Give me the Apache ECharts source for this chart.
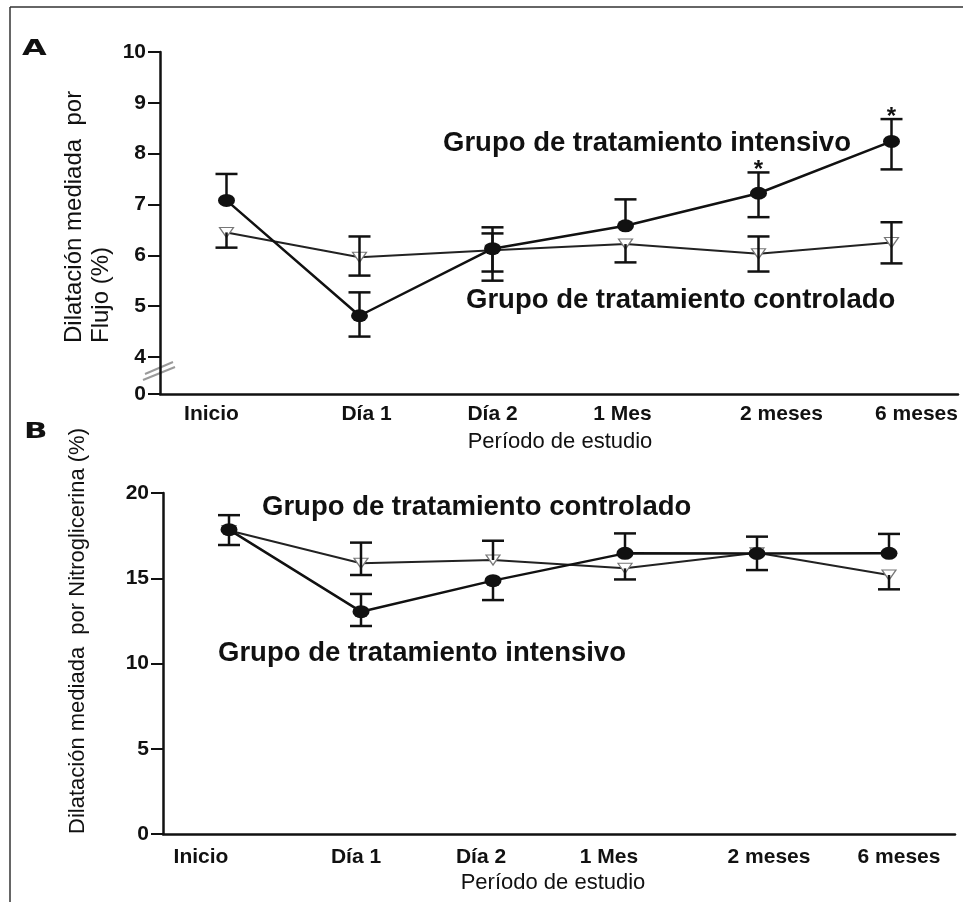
<!DOCTYPE html>
<html>
<head>
<meta charset="utf-8">
<script src="https://cdn.jsdelivr.net/npm/echarts@6/dist/echarts.min.js"></script>
<style>
  html, body { margin: 0; padding: 0; background: #fff; }
  #chart { width: 963px; height: 902px; }
</style>
</head>
<body>
<div id="chart"></div>
<script>
// Study periods shared by both panels
const categories = ['Inicio', 'Día 1', 'Día 2', '1 Mes', '2 meses', '6 meses'];

// Panel A: flow-mediated dilation (%)
const intensiveA   = [7.08, 4.81, 6.13, 6.58, 7.22, 8.24];
const intensiveAHi = [7.60, 5.27, 6.55, 7.10, 7.63, 8.68];
const intensiveALo = [null, 4.40, 5.50, null, 6.75, 7.69];
const controlA     = [6.45, 5.96, 6.10, 6.22, 6.03, 6.25];
const controlAHi   = [null, 6.37, 6.43, null, 6.37, 6.65];
const controlALo   = [6.15, 5.60, 5.68, 5.86, 5.68, 5.84];
const signifA      = ['', '', '', '', '*', '*'];
// broken axis: the bottom of the axis stands for 0
const yBreakA = 3.27;
const yTicksA = [yBreakA, 4, 5, 6, 7, 8, 9, 10];

// Panel B: nitroglycerin-mediated dilation (%)
const intensiveB   = [17.85, 13.04, 14.86, 16.46, 16.45, 16.46];
const intensiveBHi = [18.70, 14.08, null, 17.63, 17.44, 17.60];
const intensiveBLo = [null, 12.20, 13.72, null, null, null];
const controlB     = [17.80, 15.88, 16.07, 15.58, 16.50, 15.19];
const controlBHi   = [null, 17.09, 17.20, null, null, null];
const controlBLo   = [16.95, 15.19, null, 14.93, 15.48, 14.35];
const yTicksB = [0, 5, 10, 15, 20];

// horizontal nudges (px) of the category labels
const labelShiftA = [-15, 7, 0, -3, 23, 25];
const labelShiftB = [-28, -5, -12, -16, 12, 10];

const FONT = '"Liberation Sans", Arial, sans-serif';
const INK = '#111';

function catData(shifts) {
  return categories.map((c, i) => {
    const d = shifts[i];
    return {
      value: c,
      textStyle: { padding: d >= 0 ? [0, 0, 0, 2 * d] : [0, -2 * d, 0, 0] }
    };
  });
}

function errorSeries(xi, yi, mean, lo, hi, marks, z) {
  return {
    type: 'custom',
    xAxisIndex: xi,
    yAxisIndex: yi,
    z: z,
    silent: true,
    encode: { x: 0, y: 3 },
    data: mean.map((m, i) => [i, lo[i], hi[i], m]),
    renderItem: function (params, api) {
      const i = api.value(0);
      const l = api.value(1), h = api.value(2), m = api.value(3);
      const c = api.coord([i, m]);
      const top = isNaN(h) ? c : api.coord([i, h]);
      const bot = isNaN(l) ? c : api.coord([i, l]);
      const st = { stroke: INK, lineWidth: 2.5 };
      const half = 11;
      const kids = [{ type: 'line', shape: { x1: c[0], y1: top[1], x2: c[0], y2: bot[1] }, style: st }];
      if (!isNaN(h)) kids.push({ type: 'line', shape: { x1: c[0] - half, y1: top[1], x2: c[0] + half, y2: top[1] }, style: st });
      if (!isNaN(l)) kids.push({ type: 'line', shape: { x1: c[0] - half, y1: bot[1], x2: c[0] + half, y2: bot[1] }, style: st });
      const mk = marks ? marks[params.dataIndex] : '';
      if (mk) {
        kids.push({
          type: 'text',
          x: c[0], y: top[1] + 10,
          style: { text: mk, fill: INK, font: 'bold 24px ' + FONT, align: 'center', verticalAlign: 'bottom' }
        });
      }
      return { type: 'group', children: kids };
    }
  };
}

function intensiveLine(xi, yi, data) {
  return {
    type: 'line', xAxisIndex: xi, yAxisIndex: yi, z: 4, data: data,
    symbol: 'circle', symbolSize: [17, 13],
    lineStyle: { color: INK, width: 2.5 },
    itemStyle: { color: INK },
    animation: false
  };
}

function controlLine(xi, yi, data) {
  return {
    type: 'line', xAxisIndex: xi, yAxisIndex: yi, z: 2, data: data,
    symbol: 'triangle', symbolRotate: 180, symbolSize: [14, 10],
    lineStyle: { color: '#222', width: 2 },
    itemStyle: { color: '#fff', borderColor: '#777', borderWidth: 1.2 },
    animation: false
  };
}

const axisLineStyle = { show: true, lineStyle: { color: INK, width: 2.5 } };

const option = {
  backgroundColor: '#fff',
  animation: false,
  grid: [
    { left: 160, top: 52, width: 798, height: 342 },
    { left: 163, top: 493, width: 792, height: 341 }
  ],
  xAxis: [
    {
      type: 'category', gridIndex: 0, data: catData(labelShiftA), boundaryGap: true,
      axisLine: axisLineStyle, axisTick: { show: false },
      axisLabel: { color: INK, fontFamily: FONT, fontWeight: 'bold', fontSize: 21, margin: 10, interval: 0 }
    },
    {
      type: 'category', gridIndex: 1, data: catData(labelShiftB), boundaryGap: true,
      axisLine: axisLineStyle, axisTick: { show: false },
      axisLabel: { color: INK, fontFamily: FONT, fontWeight: 'bold', fontSize: 21, margin: 13, interval: 0 }
    }
  ],
  yAxis: [
    {
      type: 'value', gridIndex: 0, min: yBreakA, max: 10,
      axisLine: axisLineStyle,
      axisTick: { show: true, length: 12, customValues: yTicksA, lineStyle: { color: INK, width: 2 } },
      axisLabel: {
        customValues: yTicksA, margin: 14, color: INK, fontFamily: FONT, fontWeight: 'bold', fontSize: 21,
        formatter: v => (v < 4 ? '0' : String(Math.round(v)))
      },
      splitLine: { show: false }
    },
    {
      type: 'value', gridIndex: 1, min: 0, max: 20,
      axisLine: axisLineStyle,
      axisTick: { show: true, length: 12, customValues: yTicksB, lineStyle: { color: INK, width: 2 } },
      axisLabel: { customValues: yTicksB, margin: 14, color: INK, fontFamily: FONT, fontWeight: 'bold', fontSize: 21 },
      splitLine: { show: false }
    }
  ],
  series: [
    controlLine(0, 0, controlA),
    errorSeries(0, 0, controlA, controlALo, controlAHi, null, 3),
    errorSeries(0, 0, intensiveA, intensiveALo, intensiveAHi, signifA, 3),
    intensiveLine(0, 0, intensiveA),
    controlLine(1, 1, controlB),
    errorSeries(1, 1, controlB, controlBLo, controlBHi, null, 3),
    errorSeries(1, 1, intensiveB, intensiveBLo, intensiveBHi, null, 3),
    intensiveLine(1, 1, intensiveB)
  ],
  graphic: [
    // frame
    { type: 'line', shape: { x1: 10, y1: 7, x2: 963, y2: 7 }, style: { stroke: '#333', lineWidth: 1.5 } },
    { type: 'line', shape: { x1: 10, y1: 7, x2: 10, y2: 902 }, style: { stroke: '#333', lineWidth: 1.5 } },
    // panel letters
    { type: 'text', x: 22, y: 38, scaleX: 1.45, style: { text: 'A', font: 'bold 22px "DejaVu Sans"', fill: INK } },
    { type: 'text', x: 24, y: 421, scaleX: 1.4, style: { text: 'B', font: 'bold 22px "DejaVu Sans"', fill: INK } },
    // axis break marks
    { type: 'line', shape: { x1: 143, y1: 380, x2: 175, y2: 367 }, style: { stroke: '#9a9a9a', lineWidth: 2 } },
    { type: 'line', shape: { x1: 145, y1: 374, x2: 173, y2: 362 }, style: { stroke: '#9a9a9a', lineWidth: 2 } },
    // y-axis titles
    {
      type: 'text', x: 61, y: 343, rotation: Math.PI / 2,
      style: { text: 'Dilatación mediada  por\nFlujo (%)', font: '24px ' + FONT, fill: INK, align: 'left', verticalAlign: 'top', lineHeight: 27 }
    },
    {
      type: 'text', x: 78, y: 631, rotation: Math.PI / 2,
      style: { text: 'Dilatación mediada  por Nitroglicerina (%)', font: '22px ' + FONT, fill: INK, align: 'center', verticalAlign: 'middle' }
    },
    // x-axis titles
    { type: 'text', x: 560, y: 442, style: { text: 'Período de estudio', font: '22px ' + FONT, fill: INK, align: 'center', verticalAlign: 'middle' } },
    { type: 'text', x: 553, y: 883, style: { text: 'Período de estudio', font: '22px ' + FONT, fill: INK, align: 'center', verticalAlign: 'middle' } },
    // group labels
    { type: 'text', x: 443, y: 143, style: { text: 'Grupo de tratamiento intensivo', font: 'bold 27.5px ' + FONT, fill: INK, align: 'left', verticalAlign: 'middle' } },
    { type: 'text', x: 466, y: 300, style: { text: 'Grupo de tratamiento controlado', font: 'bold 27.5px ' + FONT, fill: INK, align: 'left', verticalAlign: 'middle' } },
    { type: 'text', x: 262, y: 507, style: { text: 'Grupo de tratamiento controlado', font: 'bold 27.5px ' + FONT, fill: INK, align: 'left', verticalAlign: 'middle' } },
    { type: 'text', x: 218, y: 653, style: { text: 'Grupo de tratamiento intensivo', font: 'bold 27.5px ' + FONT, fill: INK, align: 'left', verticalAlign: 'middle' } }
  ]
};

const chart = echarts.init(document.getElementById('chart'), null, { renderer: 'canvas' });
chart.setOption(option);
</script>
</body>
</html>
